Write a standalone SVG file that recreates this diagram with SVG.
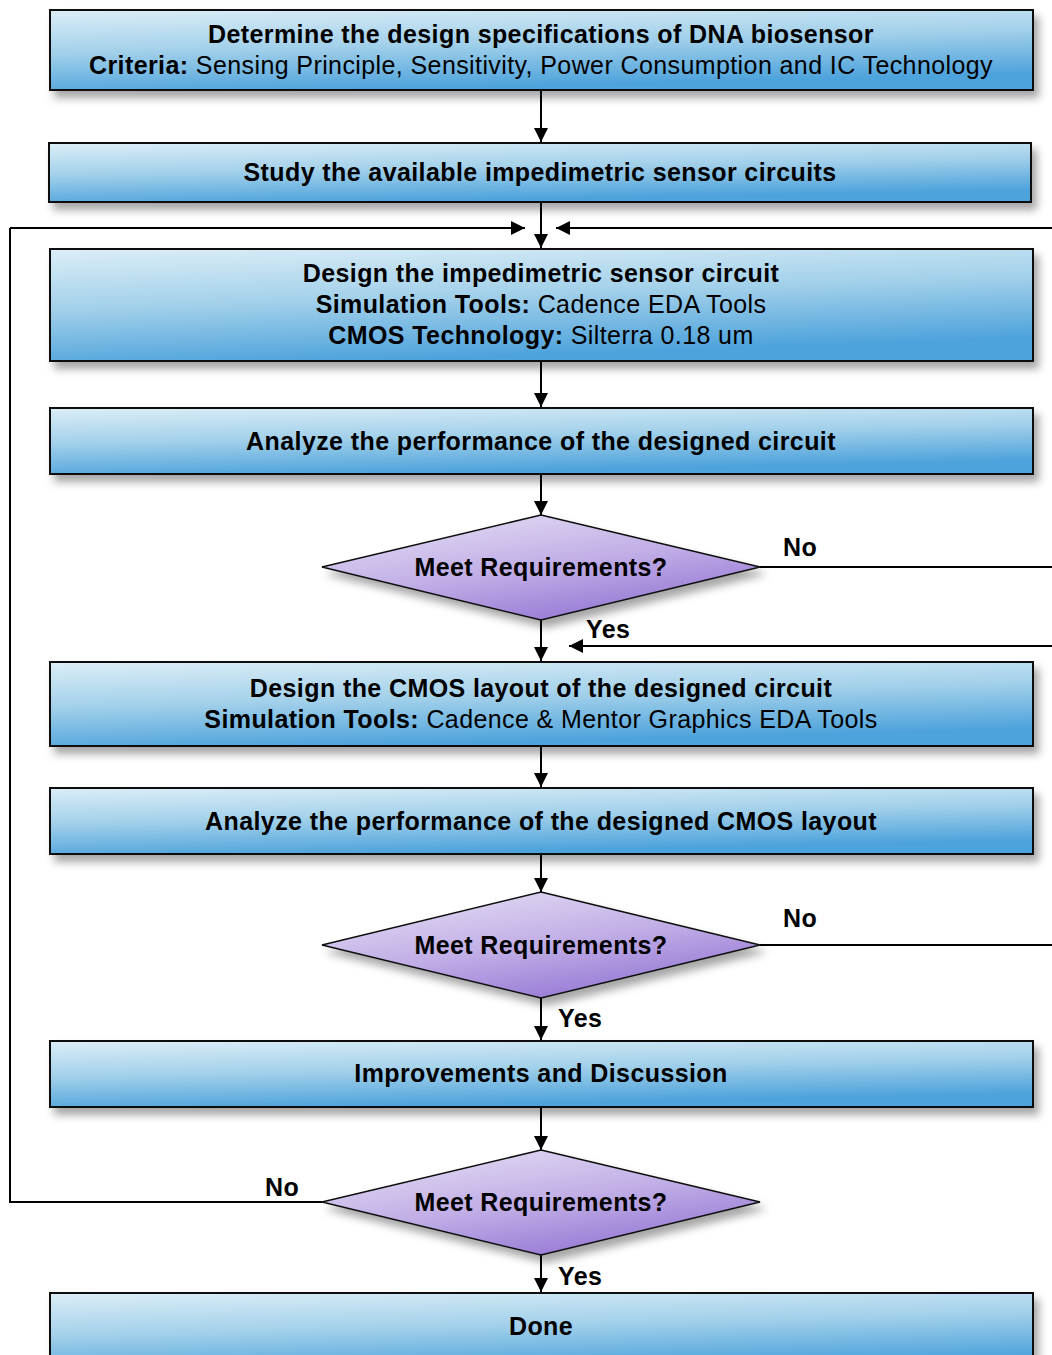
<svg xmlns="http://www.w3.org/2000/svg" width="1052" height="1355" viewBox="0 0 1052 1355">
  <defs>
    <linearGradient id="boxFill" x1="0" y1="0" x2="0.3" y2="1">
      <stop offset="0" stop-color="#dceef7"/>
      <stop offset="0.5" stop-color="#a2d0ea"/>
      <stop offset="1" stop-color="#4ea3dc"/>
    </linearGradient>
    <linearGradient id="diamondFill" x1="0.2" y1="0" x2="0.8" y2="1">
      <stop offset="0" stop-color="#e4dcf3"/>
      <stop offset="0.5" stop-color="#c0ade6"/>
      <stop offset="1" stop-color="#8e6fd2"/>
    </linearGradient>
    <filter id="shadow" x="-5%" y="-20%" width="115%" height="160%">
      <feDropShadow dx="5" dy="7" stdDeviation="4" flood-color="#000" flood-opacity="0.35"/>
    </filter>
    <marker id="arrow" viewBox="0 0 14 14" refX="14" refY="7" markerWidth="14" markerHeight="14" markerUnits="userSpaceOnUse" orient="auto">
      <path d="M0,0 L14,7 L0,14 Z" fill="#000"/>
    </marker>
    <style>
      .box { fill: url(#boxFill); stroke: #111; stroke-width: 2; filter: url(#shadow); }
      .dia { fill: url(#diamondFill); stroke: #111; stroke-width: 1.5; filter: url(#shadow); }
      .t { font-family: "Liberation Sans", Arial, sans-serif; font-size: 25px; letter-spacing: 0.4px; fill: #000; text-anchor: middle; }
      .b { font-weight: bold; }
      .lbl { font-family: "Liberation Sans", Arial, sans-serif; font-size: 25px; letter-spacing: 0.4px; font-weight: bold; fill: #000; }
      .wire { fill: none; stroke: #000; stroke-width: 2; }
      .flow { fill: none; stroke: #000; stroke-width: 2; marker-end: url(#arrow); }
    </style>
  </defs>

  <rect width="1052" height="1355" fill="#fff"/>

  <!-- connectors -->
  <g id="connectors">
    <line class="flow" x1="541" y1="90" x2="541" y2="142"/>
    <line class="flow" x1="541" y1="202" x2="541" y2="248"/>
    <line class="flow" x1="10" y1="228" x2="525" y2="228"/>
    <line class="flow" x1="1052" y1="228" x2="556" y2="228"/>
    <line class="flow" x1="541" y1="361" x2="541" y2="407"/>
    <line class="flow" x1="541" y1="474" x2="541" y2="515"/>
    <line class="wire" x1="760" y1="567" x2="1052" y2="567"/>
    <line class="flow" x1="541" y1="620" x2="541" y2="661"/>
    <line class="flow" x1="1052" y1="646" x2="569" y2="646"/>
    <line class="flow" x1="541" y1="746" x2="541" y2="787"/>
    <line class="flow" x1="541" y1="854" x2="541" y2="892"/>
    <line class="wire" x1="760" y1="945" x2="1052" y2="945"/>
    <line class="flow" x1="541" y1="998" x2="541" y2="1040"/>
    <line class="flow" x1="541" y1="1107" x2="541" y2="1150"/>
    <polyline class="wire" points="322,1202 10,1202 10,228"/>
    <line class="flow" x1="541" y1="1255" x2="541" y2="1292"/>
    <text class="lbl" x="783" y="556">No</text>
    <text class="lbl" x="586" y="638">Yes</text>
    <text class="lbl" x="783" y="927">No</text>
    <text class="lbl" x="558" y="1027">Yes</text>
    <text class="lbl" x="265" y="1196">No</text>
    <text class="lbl" x="558" y="1285">Yes</text>
  </g>

  <!-- process steps -->
  <g id="spec">
    <rect class="box" x="50" y="10" width="983" height="80"/>
    <text class="t b" x="541" y="43">Determine the design specifications of DNA biosensor</text>
    <text class="t" x="541" y="74"><tspan class="b">Criteria:</tspan> Sensing Principle, Sensitivity, Power Consumption and IC Technology</text>
  </g>
  <g id="study">
    <rect class="box" x="49" y="143" width="982" height="59"/>
    <text class="t b" x="540" y="181">Study the available impedimetric sensor circuits</text>
  </g>
  <g id="design-circuit">
    <rect class="box" x="50" y="249" width="983" height="112"/>
    <text class="t b" x="541" y="282">Design the impedimetric sensor circuit</text>
    <text class="t" x="541" y="313"><tspan class="b">Simulation Tools:</tspan> Cadence EDA Tools</text>
    <text class="t" x="541" y="344"><tspan class="b">CMOS Technology:</tspan> Silterra 0.18 um</text>
  </g>
  <g id="analyze-circuit">
    <rect class="box" x="50" y="408" width="983" height="66"/>
    <text class="t b" x="541" y="450">Analyze the performance of the designed circuit</text>
  </g>
  <g id="check-circuit">
    <polygon class="dia" points="541,515 760,567 541,620 322,567"/>
    <text class="t b" x="541" y="576">Meet Requirements?</text>
  </g>
  <g id="design-layout">
    <rect class="box" x="50" y="662" width="983" height="84"/>
    <text class="t b" x="541" y="697">Design the CMOS layout of the designed circuit</text>
    <text class="t" x="541" y="728"><tspan class="b">Simulation Tools:</tspan> Cadence &amp; Mentor Graphics EDA Tools</text>
  </g>
  <g id="analyze-layout">
    <rect class="box" x="50" y="788" width="983" height="66"/>
    <text class="t b" x="541" y="830">Analyze the performance of the designed CMOS layout</text>
  </g>
  <g id="check-layout">
    <polygon class="dia" points="541,892 760,945 541,998 322,945"/>
    <text class="t b" x="541" y="954">Meet Requirements?</text>
  </g>
  <g id="improve">
    <rect class="box" x="50" y="1041" width="983" height="66"/>
    <text class="t b" x="541" y="1082">Improvements and Discussion</text>
  </g>
  <g id="check-final">
    <polygon class="dia" points="541,1150 760,1202 541,1255 322,1202"/>
    <text class="t b" x="541" y="1211">Meet Requirements?</text>
  </g>
  <g id="done">
    <rect class="box" x="50" y="1293" width="983" height="80"/>
    <text class="t b" x="541" y="1335">Done</text>
  </g>
</svg>
